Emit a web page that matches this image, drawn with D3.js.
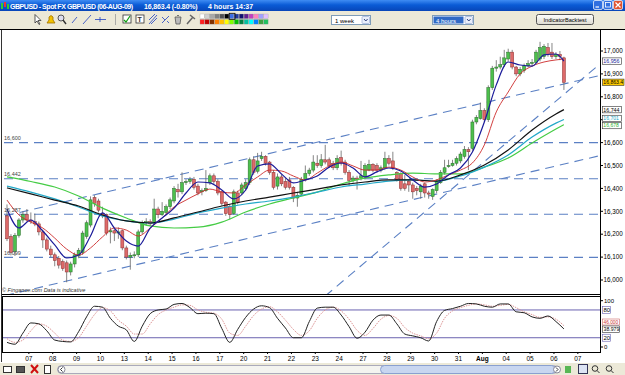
<!DOCTYPE html>
<html><head><meta charset="utf-8">
<script src="https://cdn.jsdelivr.net/npm/d3@7/dist/d3.min.js"></script>
<style>
html,body{margin:0;padding:0;background:#fff;overflow:hidden;}
svg{display:block;font-family:"Liberation Sans",Arial,sans-serif;}
</style></head><body>
<svg id="c" width="625" height="375"></svg>
<script>
// ---------------- DATA ----------------
const dayLabels = ["07","08","09","10","13","14","15","16","17","20","21","22","23","24","27","28","29","30","31","Aug","04","05","06","07"];
const priceTicks = [16000,16100,16200,16300,16400,16500,16600,16700,16800,16900,17000];
const stochTicks = [0,20,80,100];

const openP = [16280,16190,16125,16195,16262,16285,16262,16255,16245,16210,16175,16135,16110,16095,16080,16075,16035,16070,
16105,16120,16190,16240,16360,16345,16290,16285,16210,16215,16205,16215,16140,16100,16108,16110,16210,16250,
16255,16250,16310,16285,16295,16320,16345,16395,16385,16425,16430,16440,16410,16385,16390,16425,16455,16430,
16385,16340,16320,16290,16380,16380,16400,16425,16525,16475,16530,16540,16515,16470,16410,16450,16430,16437,
16405,16358,16375,16440,16465,16480,16510,16500,16525,16525,16510,16490,16535,16515,16470,16435,16445,16445,
16450,16480,16505,16500,16480,16490,16530,16520,16470,16465,16420,16430,16415,16400,16385,16420,16380,16365,
16390,16425,16470,16495,16500,16510,16520,16540,16570,16575,16690,16705,16740,16700,16840,16925,16930,16940,
16965,16995,16930,16900,16915,16935,16945,16950,16965,16975,17015,16995,16975,16985,16970];
const highP = [16330,16200,16205,16270,16300,16310,16295,16290,16255,16220,16185,16150,16120,16105,16090,16085,16080,16120,
16140,16215,16260,16365,16370,16355,16320,16290,16230,16225,16230,16220,16150,16120,16125,16220,16260,16270,
16265,16355,16320,16340,16330,16360,16410,16420,16470,16440,16450,16450,16420,16400,16480,16465,16465,16440,
16390,16345,16330,16395,16390,16425,16440,16535,16540,16555,16560,16545,16520,16480,16465,16460,16445,16450,
16410,16385,16450,16500,16490,16545,16545,16550,16590,16535,16520,16545,16565,16525,16480,16455,16455,16520,
16510,16525,16510,16510,16500,16560,16545,16560,16475,16470,16460,16440,16425,16410,16420,16425,16390,16400,
16440,16480,16525,16525,16525,16540,16560,16585,16580,16700,16720,16775,16750,16850,16935,16960,16975,17005,
17010,17005,16935,16930,16945,16960,16965,17005,17040,17030,17035,17035,16995,17000,16975];
const lowP = [16170,16110,16105,16185,16250,16255,16245,16235,16195,16140,16125,16100,16060,16050,16040,15990,16020,16055,
16095,16110,16180,16230,16320,16295,16270,16195,16160,16170,16180,16130,16090,16045,16095,16100,16200,16240,
16235,16245,16270,16280,16285,16310,16335,16360,16375,16415,16420,16395,16370,16370,16385,16415,16420,16370,
16325,16280,16265,16285,16330,16370,16390,16415,16460,16465,16520,16500,16460,16395,16395,16410,16395,16395,
16340,16320,16370,16430,16455,16470,16490,16490,16505,16490,16480,16480,16500,16460,16410,16425,16395,16435,
16440,16475,16470,16470,16470,16480,16500,16480,16430,16390,16390,16385,16355,16370,16355,16360,16355,16350,
16380,16420,16460,16490,16495,16500,16510,16530,16480,16565,16680,16700,16690,16690,16830,16910,16920,16930,
16955,16920,16890,16890,16905,16930,16935,16945,16955,16965,16975,16965,16965,16960,16830];
const closeP = [16180,16120,16195,16262,16285,16262,16255,16245,16210,16175,16135,16110,16085,16065,16050,16035,16070,16110,
16130,16205,16250,16350,16335,16305,16280,16205,16215,16205,16210,16140,16100,16108,16110,16210,16250,16255,
16245,16310,16285,16300,16320,16350,16400,16385,16425,16430,16440,16405,16380,16390,16400,16455,16430,16380,
16335,16290,16285,16385,16340,16415,16425,16525,16470,16520,16540,16510,16470,16405,16450,16420,16405,16405,
16358,16370,16440,16465,16480,16515,16500,16525,16515,16500,16490,16530,16510,16470,16435,16445,16440,16455,
16500,16505,16480,16480,16490,16530,16510,16490,16440,16400,16400,16415,16385,16390,16410,16380,16375,16395,
16430,16470,16490,16500,16510,16530,16550,16570,16560,16690,16710,16740,16700,16840,16925,16930,16940,16970,
16995,16930,16900,16920,16935,16945,16950,16995,17015,17020,16985,16975,16985,16975,16863.4];

// moving averages sampled every 6 candles (long) and every 3 candles (short)
const blackMA = [16402,16376,16349,16323,16284,16258,16249,16271,16297,16323,16345,16362,16380,16397,16415,16428,16437,16437,16432,16459,16502,16568,16655,16725,16744];
const cyanMA  = [16410,16384,16354,16319,16280,16258,16249,16266,16293,16314,16332,16345,16362,16384,16406,16419,16432,16437,16432,16454,16493,16546,16624,16685,16701];
const greenMA = [16450,16430,16406,16367,16314,16271,16236,16227,16231,16253,16297,16332,16358,16384,16419,16445,16459,16467,16463,16463,16493,16533,16598,16659,16678];
const redMA = [16349,16284,16253,16227,16183,16135,16109,16140,16188,16227,16218,16192,16227,16271,16319,16349,16376,16397,16384,16380,
16415,16450,16480,16476,16454,16437,16467,16498,16515,16498,16480,16480,16493,16480,16450,16428,16437,16459,16480,16511,
16590,16734,16821,16900,16934,16952,16961,16965];
const blueMA = [16310,16227,16262,16214,16153,16096,16109,16192,16293,16227,16170,16148,16227,16271,16314,16380,16428,16424,16393,16354,
16393,16498,16507,16463,16424,16437,16454,16493,16511,16489,16450,16472,16489,16476,16437,16406,16419,16459,16489,16559,
16690,16852,16952,16939,16934,16983,16987,16956];

// stochastic sampled every 2 candles
const stochK = [10,6,30,52,50,35,15,12,11,33,65,88,86,62,45,37,12,45,72,80,82,92,94,85,72,73,72,40,10,38,64,82,89,85,62,41,
20,20,55,84,86,86,69,44,19,32,58,69,69,50,28,24,20,13,55,79,83,88,94,93,88,86,93,93,76,74,65,62,67,55,39];
const stochD = [18,10,15,35,50,45,30,15,12,20,45,70,85,78,58,45,28,28,50,70,80,86,91,90,80,75,73,60,30,25,45,68,82,87,76,58,
38,25,35,62,80,86,78,60,36,25,40,60,68,62,42,30,24,18,30,62,78,85,90,93,91,88,90,92,85,76,70,64,65,60,46];
const lastK = 38.979;

// reference lines
const hLevels = [16600,16442,16287,16099];
const trendA = [[-0.5,16280],[149.5,16895]];
const trendB = [[-0.5,15932],[149.5,16545]];
const trendC = [[80,15930],[149.5,16950]];

// ---------------- DRAW ----------------
const svg = d3.select('#c');
const x = d3.scaleLinear().domain([-0.5,149.5]).range([5,601.7]);
const y = d3.scaleLinear().domain([16000,17000]).range([280,51]);
const ys = d3.scaleLinear().domain([0,100]).range([347,300.7]);
const fmt = d3.format(",");

const defs = svg.append('defs');
const tg = defs.append('linearGradient').attr('id','tb').attr('x1',0).attr('x2',0).attr('y1',0).attr('y2',1);
tg.append('stop').attr('offset','0%').attr('stop-color','#3f8cf3');
tg.append('stop').attr('offset','45%').attr('stop-color','#0a5bd6');
tg.append('stop').attr('offset','100%').attr('stop-color','#0846b8');
const bg = defs.append('linearGradient').attr('id','btn').attr('x1',0).attr('x2',0).attr('y1',0).attr('y2',1);
bg.append('stop').attr('offset','0%').attr('stop-color','#ffffff');
bg.append('stop').attr('offset','100%').attr('stop-color','#dcdad0');
defs.append('clipPath').attr('id','mainClip').append('rect').attr('x',3).attr('y',30).attr('width',597).attr('height',264);
defs.append('clipPath').attr('id','stClip').append('rect').attr('x',3).attr('y',297).attr('width',597).attr('height',55);

// background chrome
svg.append('rect').attr('width',625).attr('height',375).attr('fill','#ffffff');
svg.append('rect').attr('x',0).attr('y',0).attr('width',625).attr('height',11).attr('fill','url(#tb)');
svg.append('rect').attr('x',0).attr('y',11).attr('width',625).attr('height',18).attr('fill','#ece9d8');
svg.append('line').attr('x1',0).attr('x2',625).attr('y1',29.5).attr('y2',29.5).attr('stroke','#000').attr('stroke-width',1);
svg.append('rect').attr('x',0).attr('y',363).attr('width',625).attr('height',12).attr('fill','#ece9d8');

// title
const ic = svg.append('g');
ic.append('rect').attr('x',1).attr('y',3).attr('width',2).attr('height',6).attr('fill','#33cc33');
ic.append('rect').attr('x',4).attr('y',2).attr('width',2).attr('height',5).attr('fill','#ee3333');
ic.append('rect').attr('x',7).attr('y',4).attr('width',2).attr('height',5).attr('fill','#33cc33');
const tt = svg.append('g').attr('fill','#fff').attr('font-weight','bold').attr('font-size',7);
tt.append('text').attr('x',10).attr('y',8.5).attr('letter-spacing',-0.45).text('GBPUSD - Spot FX GBP/USD (06-AUG-09)');
tt.append('text').attr('x',144).attr('y',8.5).attr('letter-spacing',-0.15).text('16,863.4 (-0.80%)');
tt.append('text').attr('x',208).attr('y',8.5).text('4 hours  14:37');
// window buttons
[[593,'#2f6fe0'],[603,'#2f6fe0'],[613,'#e0522f']].forEach(([bx,c])=>{
  svg.append('rect').attr('x',bx+0.5).attr('y',0.5).attr('width',9).attr('height',9).attr('rx',1.5).attr('fill',c).attr('stroke','#fff').attr('stroke-width',0.7);
});
svg.append('line').attr('x1',595.5).attr('x2',599).attr('y1',7).attr('y2',7).attr('stroke','#fff').attr('stroke-width',1.2);
svg.append('rect').attr('x',605.5).attr('y',2.5).attr('width',5).attr('height',4.5).attr('fill','none').attr('stroke','#fff').attr('stroke-width',0.8);
svg.append('path').attr('d','M615.5,2.5L620.5,7.5M620.5,2.5L615.5,7.5').attr('stroke','#fff').attr('stroke-width',1.2);

// toolbar icons
const tb = svg.append('g').attr('stroke','#333').attr('fill','none').attr('stroke-width',0.8);
tb.append('path').attr('d','M35,14.5L35,23L37,21L39,24.5L40,24L38,20.5L41,20.5Z').attr('fill','#fff');
tb.append('path').attr('d','M47,23L55,23L53,20L53,17Q51,14 49,17L49,20Z').attr('fill','#f2c200').attr('stroke','#a07000');
tb.append('circle').attr('cx',61).attr('cy',18).attr('r',3).attr('fill','#dde');
tb.append('line').attr('x1',63).attr('y1',20).attr('x2',66).attr('y2',24).attr('stroke-width',1.4);
tb.append('line').attr('x1',72).attr('y1',23).attr('x2',77).attr('y2',17).attr('stroke','#2040c0');
tb.append('line').attr('x1',83).attr('y1',24).attr('x2',91).attr('y2',15).attr('stroke','#2040c0');
tb.append('line').attr('x1',95).attr('y1',19.5).attr('x2',106).attr('y2',19.5).attr('stroke','#2040c0');
tb.append('line').attr('x1',100).attr('y1',17).attr('x2',100).attr('y2',22).attr('stroke','#2040c0');
tb.append('line').attr('x1',115.5).attr('y1',14).attr('x2',115.5).attr('y2',25).attr('stroke','#999');
tb.append('rect').attr('x',123).attr('y',15).attr('width',8).attr('height',8).attr('fill','#fff');
tb.append('path').attr('d','M124,20L126,22L130,16').attr('stroke','#10a010').attr('stroke-width',1.2);
tb.append('rect').attr('x',136).attr('y',15).attr('width',8).attr('height',8).attr('fill','#fff');
tb.append('text').attr('x',137.5).attr('y',22).attr('font-size',7).attr('font-weight','bold').attr('fill','#333').attr('stroke','none').text('T');
tb.append('path').attr('d','M149,24L157,15M151,24L157,18M149,20L155,14').attr('stroke','#2040c0');
tb.append('path').attr('d','M162,23L169,16M162,17L165,20M167,21L169,23').attr('stroke','#2040c0');
tb.append('path').attr('d','M175,17L181,17L180,24L176,24Z M177,15.5L179,15.5').attr('fill','#bbb').attr('stroke','#555');
tb.append('path').attr('d','M187,24L193,17M190,15L195,19').attr('stroke','#666').attr('stroke-width',1.5);
// palette
const pal1 = ['#ffffff','#d0d0d0','#a8a8a8','#808080','#505050','#000000','#3a6ee8','#203aa0','#101070','#602090','#c040c0','#ff80c0','#a0a0ff','#e0c0ff'];
const pal2 = ['#ff2020','#c00000','#803000','#ff8000','#ffc000','#ffff00','#80ff00','#00c000','#008040','#00c0a0','#00ffff','#0080ff','#40a040','#20c060'];
pal1.forEach((c,k)=>svg.append('rect').attr('x',200+k*4.9).attr('y',14).attr('width',4.4).attr('height',4.6).attr('fill',c).attr('stroke','#999').attr('stroke-width',0.3));
pal2.forEach((c,k)=>svg.append('rect').attr('x',200+k*4.9).attr('y',19.5).attr('width',4.4).attr('height',4.6).attr('fill',c).attr('stroke','#999').attr('stroke-width',0.3));
svg.append('rect').attr('x',229.2).attr('y',13.3).attr('width',5.8).attr('height',6).attr('fill','none').attr('stroke','#000').attr('stroke-width',0.8);

// dropdowns
function dropdown(x0,w,label,sel){
  const g = svg.append('g');
  g.append('rect').attr('x',x0+0.5).attr('y',15.5).attr('width',w).attr('height',9).attr('fill','#fff').attr('stroke','#7f9db9');
  if(sel) g.append('rect').attr('x',x0+1.5).attr('y',16.5).attr('width',w-11).attr('height',7).attr('fill','#316ac5');
  g.append('text').attr('x',x0+4).attr('y',22.5).attr('font-size',6).attr('fill',sel?'#fff':'#000').text(label);
  g.append('rect').attr('x',x0+w-8).attr('y',16.5).attr('width',7.5).attr('height',7).attr('fill','#e8eefa').attr('stroke','#8aa0d0').attr('stroke-width',0.6).attr('rx',1);
  g.append('path').attr('d',`M${x0+w-6},19L${x0+w-4.2},21L${x0+w-2.4},19`).attr('fill','none').attr('stroke','#203070').attr('stroke-width',0.9);
}
dropdown(331,39,'1 week',false);
dropdown(432,41,'4 hours',true);
svg.append('rect').attr('x',536.5).attr('y',14.5).attr('width',57).attr('height',10).attr('rx',2).attr('fill','url(#btn)').attr('stroke','#555');
svg.append('text').attr('x',565).attr('y',21.8).attr('text-anchor','middle').attr('font-size',5.6).attr('fill','#000').text('IndicatorBacktest');

// ---------- main chart ----------
const main = svg.append('g').attr('clip-path','url(#mainClip)');
const dashCol = '#5b80c4';
hLevels.forEach(v=>{
  main.append('line').attr('x1',4).attr('x2',600).attr('y1',y(v)).attr('y2',y(v))
   .attr('stroke',dashCol).attr('stroke-width',1.1).attr('stroke-dasharray','9,6');
});
[trendA,trendB,trendC].forEach(t=>{
  main.append('line').attr('x1',x(t[0][0])).attr('y1',y(t[0][1])).attr('x2',x(t[1][0])).attr('y2',y(t[1][1]))
   .attr('stroke',dashCol).attr('stroke-width',1.1).attr('stroke-dasharray','9,6');
});
const lvlLab = svg.append('g').attr('font-size',5.5).attr('fill','#444');
hLevels.forEach(v=>{
  lvlLab.append('text').attr('x',4).attr('y',y(v)-2.5).text(fmt(v));
});

// candles
const idx = d3.range(closeP.length);
const cg = main.append('g');
idx.forEach(i=>{
  const up = closeP[i] >= openP[i];
  const cx = x(i);
  cg.append('line').attr('x1',cx).attr('x2',cx).attr('y1',y(highP[i])).attr('y2',y(lowP[i]))
    .attr('stroke','#666').attr('stroke-width',0.8);
  const top = y(Math.max(openP[i],closeP[i])), bot = y(Math.min(openP[i],closeP[i]));
  cg.append('rect').attr('x',cx-1.5).attr('y',top).attr('width',3).attr('height',Math.max(1,bot-top))
    .attr('fill',up?'#4cc04c':'#dd6a6a').attr('stroke',up?'#2a6a2a':'#8a3030').attr('stroke-width',0.5);
});

// moving averages
const dailyIdx = d3.range(0,139,6).concat([closeP.length-1]);
const idx3 = d3.range(0,139,3).concat([closeP.length-1]);
function maLine(idxs,vals,col,w){
  const ln = d3.line().x((d,k)=>x(idxs[k])).y(d=>y(d)).curve(d3.curveMonotoneX);
  main.append('path').attr('d',ln(vals)).attr('fill','none').attr('stroke',col).attr('stroke-width',w);
}
maLine(dailyIdx,greenMA,'#45cc45',1.2);
maLine(dailyIdx,cyanMA,'#22a8c8',1.2);
maLine(dailyIdx,blackMA,'#111111',1.2);
maLine(idx3,redMA,'#cc2a2a',0.9);
maLine(idx3,blueMA,'#1c1c9a',1.2);

svg.append('text').attr('x',2).attr('y',292).attr('font-size',5.5).attr('font-style','italic').attr('fill','#333').text('© Fingance.com   Data is indicative');

// frames
svg.append('line').attr('x1',1.5).attr('x2',1.5).attr('y1',30).attr('y2',362).attr('stroke','#333');
svg.append('line').attr('x1',2).attr('x2',600).attr('y1',294.5).attr('y2',294.5).attr('stroke','#000');
svg.append('line').attr('x1',600.5).attr('x2',600.5).attr('y1',30).attr('y2',353).attr('stroke','#000');

// value boxes (last values)
const boxes = [
  {v:blueMA[blueMA.length-1], nudge:0, txt:fmt(blueMA[blueMA.length-1]), col:'#1c1c9a', fill:'#fff', w:19, fs:5.3},
  {v:closeP[closeP.length-1], nudge:0, txt:d3.format(",.1f")(closeP[closeP.length-1]), col:'#000', fill:'#ffcc00', w:21.5, fs:5.1},
  {v:blackMA[blackMA.length-1], nudge:0, txt:fmt(blackMA[blackMA.length-1]), col:'#000', fill:'#fff', w:19, fs:5.3},
  {v:cyanMA[cyanMA.length-1], nudge:-1, txt:fmt(cyanMA[cyanMA.length-1]), col:'#22a8c8', fill:'#fff', w:19, fs:5.1},
  {v:greenMA[greenMA.length-1], nudge:0.8, txt:fmt(greenMA[greenMA.length-1]), col:'#30b030', fill:'#fff', w:19, fs:5.1}
];
// price axis (labels hidden where a value box covers them)
const ax = svg.append('g').attr('font-size',6.3).attr('fill','#000');
priceTicks.forEach(v=>{
  ax.append('line').attr('x1',600).attr('x2',603).attr('y1',y(v)).attr('y2',y(v)).attr('stroke','#000');
  const covered = boxes.some(b=>Math.abs(y(b.v)+b.nudge - y(v)) < 6.5);
  if(!covered) ax.append('text').attr('x',603.5).attr('y',y(v)+2.2).text(fmt(v));
});
boxes.forEach(b=>{
  const yy = y(b.v)+b.nudge;
  svg.append('rect').attr('x',602.5).attr('y',yy-3.2).attr('width',b.w).attr('height',6.4).attr('fill',b.fill).attr('stroke','#333').attr('stroke-width',0.6);
  svg.append('text').attr('x',603.3).attr('y',yy+1.9).attr('font-size',b.fs).attr('fill',b.col).text(b.txt);
});

// ---------- stochastic ----------
svg.append('rect').attr('x',2.5).attr('y',296.5).attr('width',598).attr('height',56).attr('fill','#fff').attr('stroke','#000');
const st = svg.append('g').attr('clip-path','url(#stClip)');
[80,20].forEach(v=>st.append('line').attr('x1',3).attr('x2',600).attr('y1',ys(v)).attr('y2',ys(v)).attr('stroke','#6a62b0').attr('stroke-width',1));
const sIdx = d3.range(0,141,2);
const sl = d3.line().x((d,k)=>x(sIdx[k])).y(d=>ys(d)).curve(d3.curveMonotoneX);
st.append('path').attr('d',sl(stochD)).attr('fill','none').attr('stroke','#d88a8a').attr('stroke-width',0.9).attr('stroke-dasharray','1.5,1');
st.append('path').attr('d',sl(stochK)).attr('fill','none').attr('stroke','#222').attr('stroke-width',1);
const sa = svg.append('g').attr('font-size',6).attr('fill','#000');
[100,0].forEach(v=>{
  sa.append('line').attr('x1',600).attr('x2',603).attr('y1',ys(v)).attr('y2',ys(v)).attr('stroke','#000');
  sa.append('text').attr('x',604).attr('y',ys(v)+2.2).text(v);
});
[80,20].forEach(v=>{
  sa.append('rect').attr('x',602.5).attr('y',ys(v)-3.5).attr('width',8).attr('height',7).attr('fill','#fff').attr('stroke','#6a62b0').attr('stroke-width',0.6);
  sa.append('text').attr('x',603.5).attr('y',ys(v)+2.2).text(v);
});
const lastD = stochD[stochD.length-1];
sa.append('rect').attr('x',602.5).attr('y',319).attr('width',17).attr('height',6).attr('fill','#fff').attr('stroke','#c66').attr('stroke-width',0.6);
sa.append('text').attr('x',603.5).attr('y',323.8).attr('font-size',4.8).attr('fill','#c33').text(d3.format(".3f")(lastD));
sa.append('rect').attr('x',602.5).attr('y',ys(lastK)-3).attr('width',17).attr('height',6.5).attr('fill','#fff').attr('stroke','#333').attr('stroke-width',0.6);
sa.append('text').attr('x',603.5).attr('y',ys(lastK)+2.2).attr('font-size',5.2).attr('fill','#000').text(d3.format(".3f")(lastK));

// x axis labels
const xa = svg.append('g').attr('font-size',6.5).attr('fill','#000').attr('text-anchor','middle');
dayLabels.forEach((lab,k)=>{
  const xi = x(6*(k+1)-0.5);
  xa.append('line').attr('x1',xi).attr('x2',xi).attr('y1',352).attr('y2',354).attr('stroke','#000');
  xa.append('text').attr('x',xi).attr('y',361).attr('font-weight',lab==='Aug'?'bold':'normal').text(lab);
});

// bottom toolbar
const bt = svg.append('g');
bt.append('rect').attr('x',3.5).attr('y',366.5).attr('width',8).attr('height',6).attr('fill','#fff').attr('stroke','#333');
bt.append('rect').attr('x',16.5).attr('y',366.5).attr('width',8).attr('height',6).attr('fill','#555').attr('stroke','#333');
bt.append('path').attr('d','M31,365L38,373M38,365L31,373').attr('stroke','#d01010').attr('stroke-width',2);
bt.append('rect').attr('x',44.5).attr('y',365.5).attr('width',6).attr('height',8).attr('fill','#fff').attr('stroke','#333');
bt.append('rect').attr('x',57.5).attr('y',365.5).attr('width',500).attr('height',8).attr('rx',4).attr('fill','#f4f4f0').attr('stroke','#aab');
bt.append('rect').attr('x',380.5).attr('y',365.5).attr('width',175).attr('height',8).attr('rx',4).attr('fill','#c8d6f0').attr('stroke','#8aa0d0');
bt.append('circle').attr('cx',61.5).attr('cy',369.5).attr('r',3.5).attr('fill','#fff').attr('stroke','#889');
bt.append('circle').attr('cx',557).attr('cy',369.5).attr('r',3.5).attr('fill','#fff').attr('stroke','#889');
bt.append('path').attr('d','M62.5,367.5L60.5,369.5L62.5,371.5').attr('fill','none').attr('stroke','#333');
bt.append('path').attr('d','M556,367.5L558,369.5L556,371.5').attr('fill','none').attr('stroke','#333');
bt.append('rect').attr('x',565).attr('y',366).attr('width',6).attr('height',7).attr('fill','#3a3').attr('opacity',0.8);
bt.append('rect').attr('x',578.5).attr('y',364.5).attr('width',9).attr('height',9).attr('fill','#dde4f4').attr('stroke','#335');
bt.append('circle').attr('cx',595).attr('cy',368.5).attr('r',2.8).attr('fill','none').attr('stroke','#333');
bt.append('line').attr('x1',597).attr('y1',370.5).attr('x2',599.5).attr('y2',373).attr('stroke','#333');
bt.append('circle').attr('cx',609).attr('cy',368.5).attr('r',2.8).attr('fill','none').attr('stroke','#333');
bt.append('line').attr('x1',611).attr('y1',370.5).attr('x2',613.5).attr('y2',373).attr('stroke','#333');
</script>
</body></html>
